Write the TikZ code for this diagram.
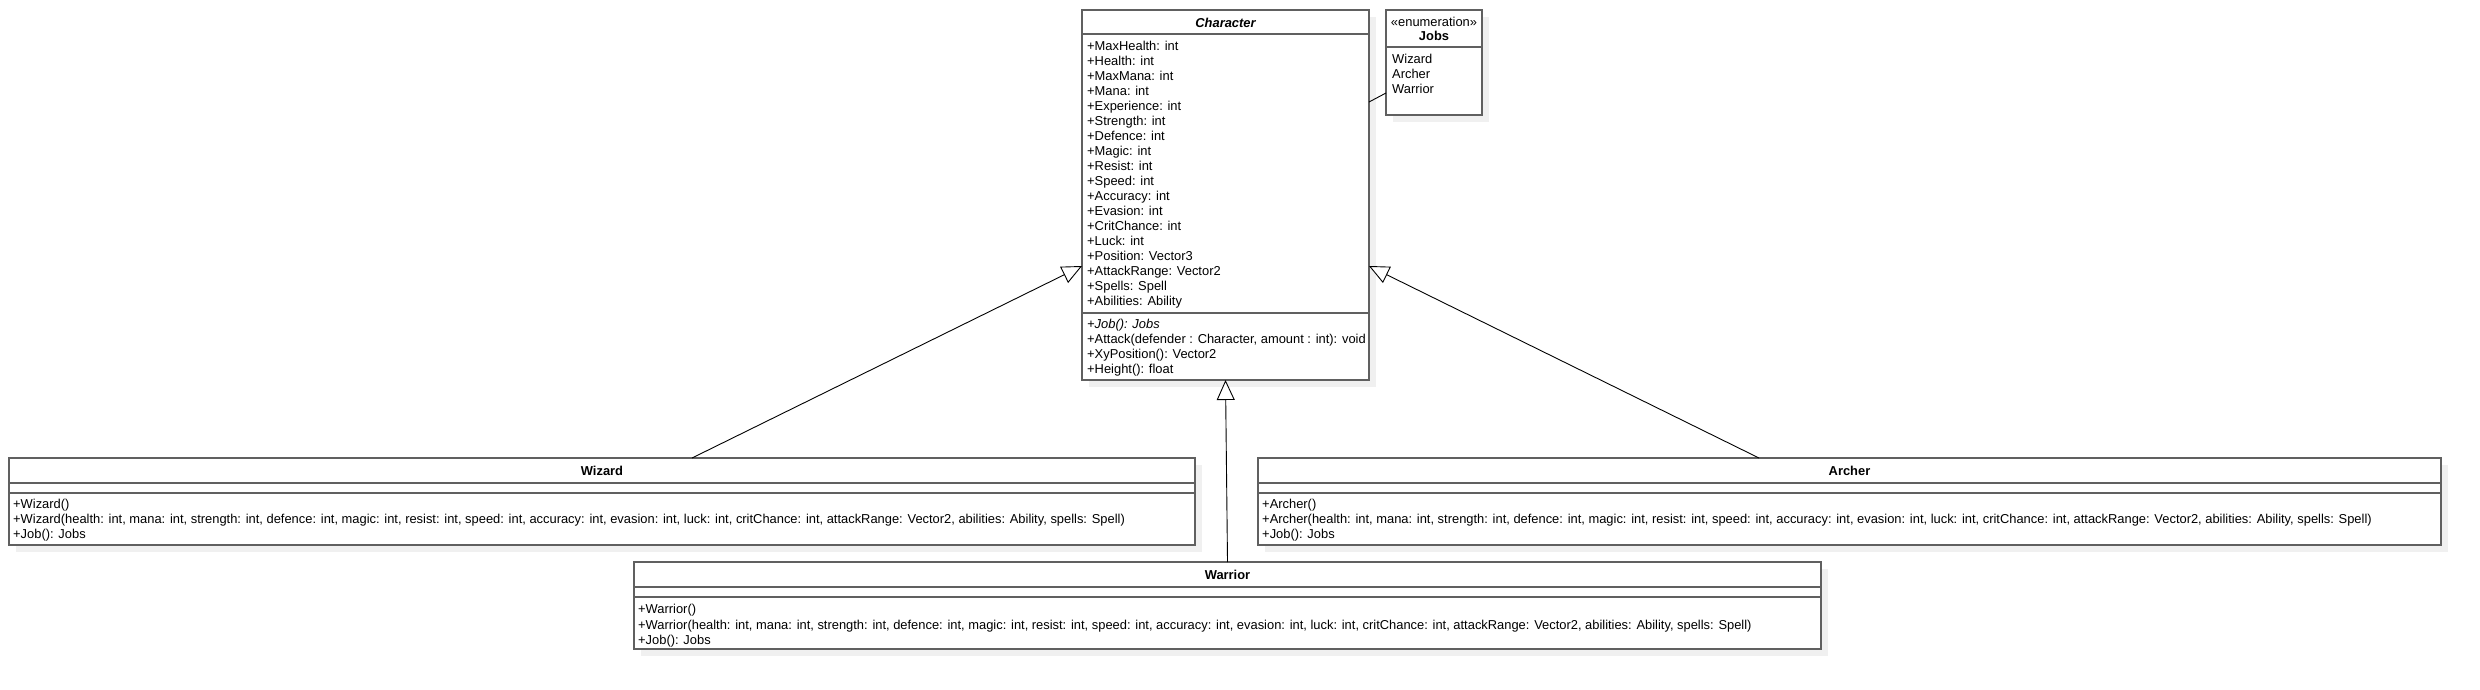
\documentclass[tikz,border=0pt]{standalone}
\usepackage{fontspec}
\setmainfont{Liberation Sans}
\usetikzlibrary{arrows.meta,calc,shadows}
\definecolor{boxline}{RGB}{96,96,96}
\definecolor{shade}{RGB}{240,240,240}
\begin{document}
\begin{tikzpicture}[x=1pt,y=-1pt,
  classbox/.style={draw=boxline, line width=1.4pt, fill=white, inner sep=0pt, outer sep=0pt, anchor=north west,
    general shadow={fill=shade, draw=none, shadow xshift=7pt, shadow yshift=-7pt}},
  sepline/.style={draw=boxline, line width=1.4pt},
  txt/.style={inner sep=0pt, anchor=west, text height=9.2pt, text depth=0pt, font=\fontsize{12.9}{15}\selectfont},
  ttl/.style={inner sep=0pt, anchor=center, text height=9.2pt, text depth=0pt, font=\fontsize{12.9}{15}\selectfont\bfseries},
  inh/.style={draw=black, line width=0.9pt, -{Triangle[open, length=20pt, width=18pt, fill=white]}},
  assoc/.style={draw=black, line width=0.9pt}]
\fill[white] (0,0) rectangle (2480,689);
\useasboundingbox (0,0) rectangle (2480,689);

% Character
\node[classbox, minimum width=287pt, minimum height=370pt] (character) at (1082,10) {};
\draw[sepline] (1082,34) -- (1369,34);
\draw[sepline] (1082,313) -- (1369,313);
\node[ttl, font=\fontsize{12.9}{15}\selectfont\bfseries\itshape] (chtitle) at (1225.5,22.5) {Character};
\foreach \t [count=\i] in {MaxHealth: int, Health: int, MaxMana: int, Mana: int, Experience: int, Strength: int, Defence: int, Magic: int, Resist: int, Speed: int, Accuracy: int, Evasion: int, CritChance: int, Luck: int, Position: Vector3, AttackRange: Vector2, Spells: Spell, Abilities: Ability}
  \node[txt] (ca\i) at (1087,{31+15*\i}) {+\t};
\node[txt] (cm1) at (1087,323.5) {\itshape +Job(): Jobs};
\node[txt] (cm2) at (1087,338.5) {+Attack(defender : Character, amount : int): void};
\node[txt] (cm3) at (1087,353.5) {+XyPosition(): Vector2};
\node[txt] (cm4) at (1087,368.5) {+Height(): float};

% Jobs
\node[classbox, minimum width=96pt, minimum height=105pt] (jobs) at (1386,10) {};
\draw[sepline] (1386,47) -- (1482,47);
\node[ttl, font=\fontsize{12.9}{15}\selectfont] (jster) at (1434,21.5) {«enumeration»};
\node[ttl] (jtitle) at (1434,35.5) {Jobs};
\node[txt] (j1) at (1392,59) {Wizard};
\node[txt] (j2) at (1392,74) {Archer};
\node[txt] (j3) at (1392,89) {Warrior};

% Wizard
\node[classbox, minimum width=1186pt, minimum height=87pt] (wizard) at (9,458) {};
\draw[sepline] (9,483) -- (1195,483);
\draw[sepline] (9,493) -- (1195,493);
\node[ttl] (wtitle) at (602,470.5) {Wizard};
\node[txt] (w1) at (13,503.5) {+Wizard()};
\node[txt] (w2) at (13,518.5) {+Wizard(health: int, mana: int, strength: int, defence: int, magic: int, resist: int, speed: int, accuracy: int, evasion: int, luck: int, critChance: int, attackRange: Vector2, abilities: Ability, spells: Spell)};
\node[txt] (w3) at (13,533.5) {+Job(): Jobs};

% Archer
\node[classbox, minimum width=1183pt, minimum height=87pt] (archer) at (1258,458) {};
\draw[sepline] (1258,483) -- (2441,483);
\draw[sepline] (1258,493) -- (2441,493);
\node[ttl] (atitle) at (1849.5,470.5) {Archer};
\node[txt] (a1) at (1262,503.5) {+Archer()};
\node[txt] (a2) at (1262,518.5) {+Archer(health: int, mana: int, strength: int, defence: int, magic: int, resist: int, speed: int, accuracy: int, evasion: int, luck: int, critChance: int, attackRange: Vector2, abilities: Ability, spells: Spell)};
\node[txt] (a3) at (1262,533.5) {+Job(): Jobs};

% Warrior
\node[classbox, minimum width=1187pt, minimum height=87pt] (warrior) at (634,562) {};
\draw[sepline] (634,587) -- (1821,587);
\draw[sepline] (634,597) -- (1821,597);
\node[ttl] (rtitle) at (1227.5,574.5) {Warrior};
\node[txt] (r1) at (638,609) {+Warrior()};
\node[txt] (r2) at (638,624.5) {+Warrior(health: int, mana: int, strength: int, defence: int, magic: int, resist: int, speed: int, accuracy: int, evasion: int, luck: int, critChance: int, attackRange: Vector2, abilities: Ability, spells: Spell)};
\node[txt] (r3) at (638,640) {+Job(): Jobs};

% connectors
\draw[inh] ($(wizard.north west)+(683,0)$) -- ($(character.north west)+(0,256)$);
\draw[inh] ($(archer.north west)+(501,0)$) -- ($(character.north east)+(0,256)$);
\draw[inh] (warrior.north) -- (character.south);
\draw[assoc] ($(character.north east)+(0,92)$) -- ($(jobs.north west)+(0,83)$);
\end{tikzpicture}
\end{document}
